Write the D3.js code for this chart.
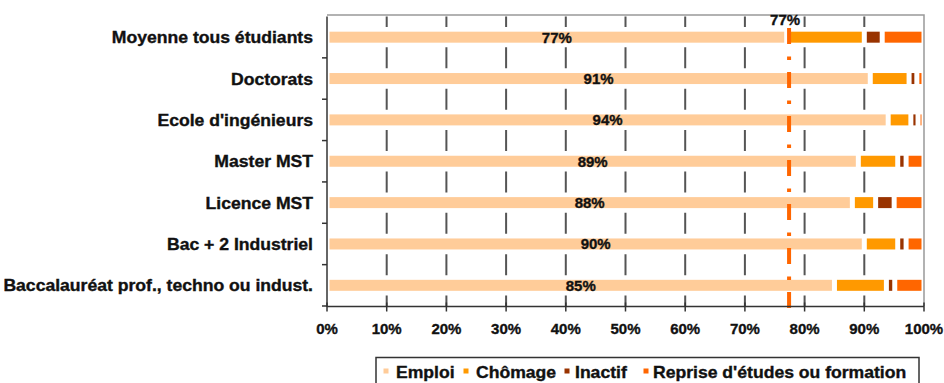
<!DOCTYPE html>
<html>
<head>
<meta charset="utf-8">
<script src="https://cdn.jsdelivr.net/npm/d3@7"></script>
<style>
  html, body { margin: 0; padding: 0; background: #fff; }
  svg { display: block; }
  text { font-family: "Liberation Sans", Arial, sans-serif; font-weight: bold; fill: #111; stroke: #111; stroke-width: 0.35px; }
</style>
</head>
<body>
<svg id="chart" width="944" height="383"></svg>
<script>
// Situation des diplômés (%) par niveau de formation
const categories = [
  "Moyenne tous étudiants",
  "Doctorats",
  "Ecole d'ingénieurs",
  "Master MST",
  "Licence MST",
  "Bac + 2 Industriel",
  "Baccalauréat prof., techno ou indust."
];
const emploi   = [77, 91, 94, 89, 88, 90, 85];
const chomage  = [13, 6.5, 3.8, 6.6, 3.9, 5.6, 8.7];
const inactif  = [3, 1.3, 1.2, 1.4, 3.1, 1.4, 1.4];
const reprise  = [7, 1.2, 1.0, 3.0, 5.0, 3.0, 4.9];
const moyenneEmploi = 77.4;
const seriesNames = ["Emploi", "Chômage", "Inactif", "Reprise d'études ou formation"];
const seriesColors = ["#FFCC99", "#FF9900", "#993300", "#FF6600"];
const xTicks = [0, 10, 20, 30, 40, 50, 60, 70, 80, 90, 100];

const rows = categories.map((c, i) => ({
  cat: c, Emploi: emploi[i], "Chômage": chomage[i], Inactif: inactif[i],
  "Reprise d'études ou formation": reprise[i]
}));

const svg = d3.select("#chart");
const x = d3.scaleLinear().domain([0, 100]).range([327, 924]);
const y = d3.scaleBand().domain(categories).range([16.5, 306]);
const barH = 11;
const gap = 2.5;
const stretch = 1.1; // wide bold lettering of labels

// frame (top + right)
svg.append("path")
  .attr("d", `M${x(0)},15 H${x(100)} V306`)
  .attr("fill", "none").attr("stroke", "#999").attr("stroke-width", 1.5);

// vertical gridlines: dashes between the bars
const step = y.step();
const dashL = 21;
svg.append("g").selectAll("line")
  .data(xTicks.slice(1, -1))
  .join("line")
  .attr("x1", d => x(d)).attr("x2", d => x(d))
  .attr("y1", y.range()[0]).attr("y2", y.range()[1])
  .attr("stroke", "#555").attr("stroke-width", 2)
  .attr("stroke-dasharray", `${dashL} ${step - dashL}`)
  .attr("stroke-dashoffset", dashL / 2);

// stacked bars
const stack = d3.stack().keys(seriesNames)(rows);
svg.append("g").selectAll("g")
  .data(stack)
  .join("g")
  .attr("fill", (d, i) => seriesColors[i])
  .selectAll("rect")
  .data(d => d)
  .join("rect")
  .attr("x", d => x(d[0]) + gap)
  .attr("width", d => Math.max(0, x(d[1]) - x(d[0]) - 2 * gap))
  .attr("y", d => y(d.data.cat) + y.bandwidth() / 2 - barH / 2)
  .attr("height", barH);

// emploi value labels
svg.append("g").selectAll("text")
  .data(rows)
  .join("text")
  .attr("x", d => (x(0) + x(d.Emploi)) / 2)
  .attr("y", d => y(d.cat) + y.bandwidth() / 2 + 5.5)
  .attr("text-anchor", "middle")
  .attr("font-size", 15)
  .text(d => d.Emploi + "%");

// average line (dash-dot)
svg.append("line")
  .attr("x1", x(moyenneEmploi)).attr("x2", x(moyenneEmploi))
  .attr("y1", 308).attr("y2", 16)
  .attr("stroke", "#FF6600").attr("stroke-width", 4)
  .attr("stroke-dasharray", "16 12 3.5 12.5");
svg.append("text")
  .attr("x", x(moyenneEmploi) - 4)
  .attr("y", 25)
  .attr("text-anchor", "middle")
  .attr("font-size", 15)
  .text(d3.format(".0f")(moyenneEmploi) + "%");

// x axis
const xAxis = svg.append("g").attr("transform", "translate(0,306.5)");
xAxis.append("line").attr("x1", x(0)).attr("x2", x(100))
  .attr("stroke", "#333").attr("stroke-width", 1.5);
xAxis.selectAll("line.tick").data(xTicks).join("line")
  .attr("class", "tick")
  .attr("x1", d => x(d)).attr("x2", d => x(d))
  .attr("y1", -4).attr("y2", 5)
  .attr("stroke", "#333").attr("stroke-width", 1.5);
xAxis.selectAll("text").data(xTicks).join("text")
  .attr("x", d => x(d)).attr("y", 27.5)
  .attr("text-anchor", "middle").attr("font-size", 15)
  .text(d => d + "%");

// y axis
const yAxis = svg.append("g");
yAxis.append("line").attr("x1", x(0)).attr("x2", x(0))
  .attr("y1", y.range()[0]).attr("y2", 307)
  .attr("stroke", "#333").attr("stroke-width", 1.5);
const bounds = categories.map(c => y(c) + step);
yAxis.selectAll("line.tick").data(bounds).join("line")
  .attr("class", "tick")
  .attr("x1", x(0) - 5).attr("x2", x(0))
  .attr("y1", d => d).attr("y2", d => d)
  .attr("stroke", "#333").attr("stroke-width", 1.5);
yAxis.selectAll("text").data(categories).join("text")
  .attr("transform", d => `translate(313,${y(d) + y.bandwidth() / 2 + 6}) scale(${stretch},1)`)
  .attr("text-anchor", "end")
  .attr("font-size", 16)
  .text(d => d);

// legend
const legend = svg.append("g");
legend.append("rect")
  .attr("x", 376).attr("y", 357.5).attr("width", 543).attr("height", 40)
  .attr("fill", "#fff").attr("stroke", "#333").attr("stroke-width", 1.5);
const markerPos = [386, 466, 567, 646];
const labelPos = [396, 476, 575, 653];
const items = legend.selectAll("g.item").data(seriesNames).join("g")
  .attr("class", "item");
items.append("rect")
  .attr("x", (d, i) => markerPos[i] - 2.5).attr("y", 368.5)
  .attr("width", 5).attr("height", 5)
  .attr("fill", (d, i) => seriesColors[i]);
items.append("text")
  .attr("transform", (d, i) => `translate(${labelPos[i]},377.5) scale(${stretch},1)`)
  .attr("font-size", 16)
  .text(d => d);
</script>
</body>
</html>
